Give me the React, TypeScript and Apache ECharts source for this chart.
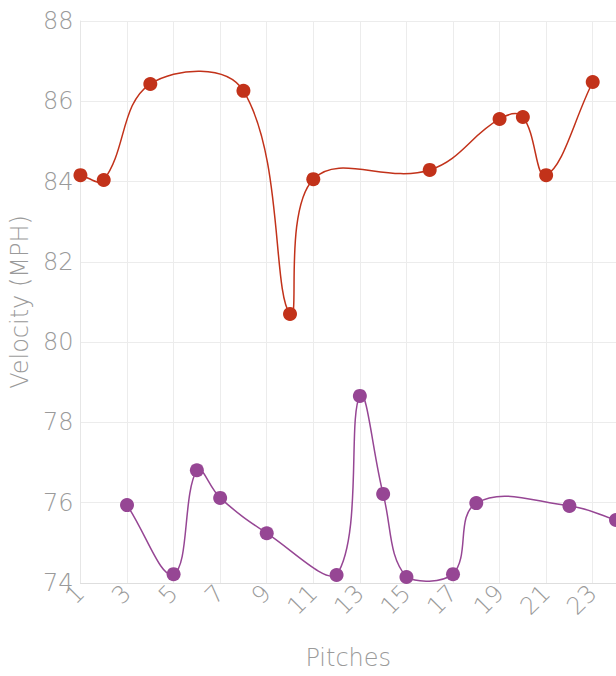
import React, { useEffect, useRef } from "react";
import * as echarts from "echarts";

const pitches: string[] = Array.from({ length: 24 }, (_, i) => String(i + 1));

const fastball: (number | null)[] = [
  84.16, 84.04, null, 86.43, null, null, null, 86.26, null, 80.7, 84.06, null,
  null, null, null, 84.29, null, null, 85.56, 85.61, 84.16, null, 86.48, null,
];

const offspeed: (number | null)[] = [
  null, null, 75.94, null, 74.22, 76.81, 76.12, null, 75.24, null, null, 74.2,
  78.66, 76.22, 74.15, null, 74.22, 75.99, null, null, null, 75.92, null, 75.57,
];

const Y_MIN = 74;
const Y_MAX = 88;
const Y_STEP = 2;

const FONT = "DejaVu Sans";
const GRAY = "#9a9a9a";
const RED = "#c2321a";
const PURPLE = "#964694";
const TENSION = 0.4;

const toPairs = (vals: (number | null)[]) =>
  vals
    .map((v, i) => (v == null ? null : [i, v]))
    .filter((p) => p != null) as number[][];

function splinePath(api: any, vals: (number | null)[]): string {
  const pts: number[][] = toPairs(vals).map((p) => api.coord(p));
  const top = api.coord([0, Y_MAX])[1];
  const bottom = api.coord([0, Y_MIN])[1];
  const left = api.coord([0, Y_MIN])[0];
  const right = api.coord([pitches.length - 1, Y_MIN])[0];
  const cap = (p: number[]) => [
    Math.min(Math.max(p[0], left), right),
    Math.min(Math.max(p[1], top), bottom),
  ];
  const n = pts.length;
  const cps = pts.map((p, i) => {
    const prev = pts[Math.max(i - 1, 0)];
    const next = pts[Math.min(i + 1, n - 1)];
    const d01 = Math.hypot(p[0] - prev[0], p[1] - prev[1]);
    const d12 = Math.hypot(next[0] - p[0], next[1] - p[1]);
    let s01 = d01 / (d01 + d12);
    let s12 = d12 / (d01 + d12);
    if (!isFinite(s01)) s01 = 0;
    if (!isFinite(s12)) s12 = 0;
    const fa = TENSION * s01;
    const fb = TENSION * s12;
    const vx = next[0] - prev[0];
    const vy = next[1] - prev[1];
    return {
      prev: cap([p[0] - fa * vx, p[1] - fa * vy]),
      next: cap([p[0] + fb * vx, p[1] + fb * vy]),
    };
  });
  let d = `M${pts[0][0]},${pts[0][1]}`;
  for (let i = 1; i < n; i++) {
    const a = cps[i - 1].next;
    const b = cps[i].prev;
    d += ` C${a[0]},${a[1]} ${b[0]},${b[1]} ${pts[i][0]},${pts[i][1]}`;
  }
  return d;
}

function curveSeries(vals: (number | null)[], color: string) {
  return {
    type: "custom",
    data: toPairs(vals),
    encode: { x: 0, y: 1 },
    z: 2,
    renderItem: (params: any, api: any) => {
      if (params.dataIndex !== 0) return null;
      return {
        type: "path",
        shape: { pathData: splinePath(api, vals) },
        style: { stroke: color, fill: "none", lineWidth: 1.5 },
      };
    },
  };
}

function pointSeries(vals: (number | null)[], color: string) {
  return {
    type: "scatter",
    data: toPairs(vals),
    symbol: "circle",
    symbolSize: 14,
    z: 3,
    itemStyle: { color, opacity: 1 },
  };
}

export default function App() {
  const ref = useRef<HTMLDivElement>(null);
  useEffect(() => {
    if (!ref.current) return;
    const chart = echarts.init(ref.current, undefined, { renderer: "svg" });
    const textBase = { color: GRAY, fontFamily: FONT, fontSize: 24, fontWeight: 300 };
    chart.setOption({
      animation: false,
      grid: { left: 79, right: 0, top: 21, bottom: 93, containLabel: false },
      xAxis: {
        type: "category",
        data: pitches,
        boundaryGap: false,
        name: "Pitches",
        nameLocation: "middle",
        nameGap: 63,
        nameTextStyle: textBase,
        axisLine: { lineStyle: { color: "#dedede" } },
        axisTick: { show: false },
        axisLabel: { interval: 1, rotate: 45, margin: 6, ...textBase },
        splitLine: { show: true, interval: 1, lineStyle: { color: "#ececec" } },
      },
      yAxis: {
        type: "value",
        min: Y_MIN,
        max: Y_MAX,
        interval: Y_STEP,
        name: "Velocity (MPH)",
        nameLocation: "middle",
        nameGap: 47,
        nameTextStyle: textBase,
        axisLine: { show: true, lineStyle: { color: "#e6e6e6" } },
        axisTick: { show: false },
        axisLabel: { margin: 7, ...textBase },
        splitLine: { lineStyle: { color: "#ececec" } },
      },
      series: [
        curveSeries(fastball, RED),
        curveSeries(offspeed, PURPLE),
        pointSeries(fastball, RED),
        pointSeries(offspeed, PURPLE),
      ],
    });
    return () => chart.dispose();
  }, []);
  return (
    <div
      ref={ref}
      style={{ position: "absolute", left: 0, top: 0, width: 616, height: 676 }}
    />
  );
}
